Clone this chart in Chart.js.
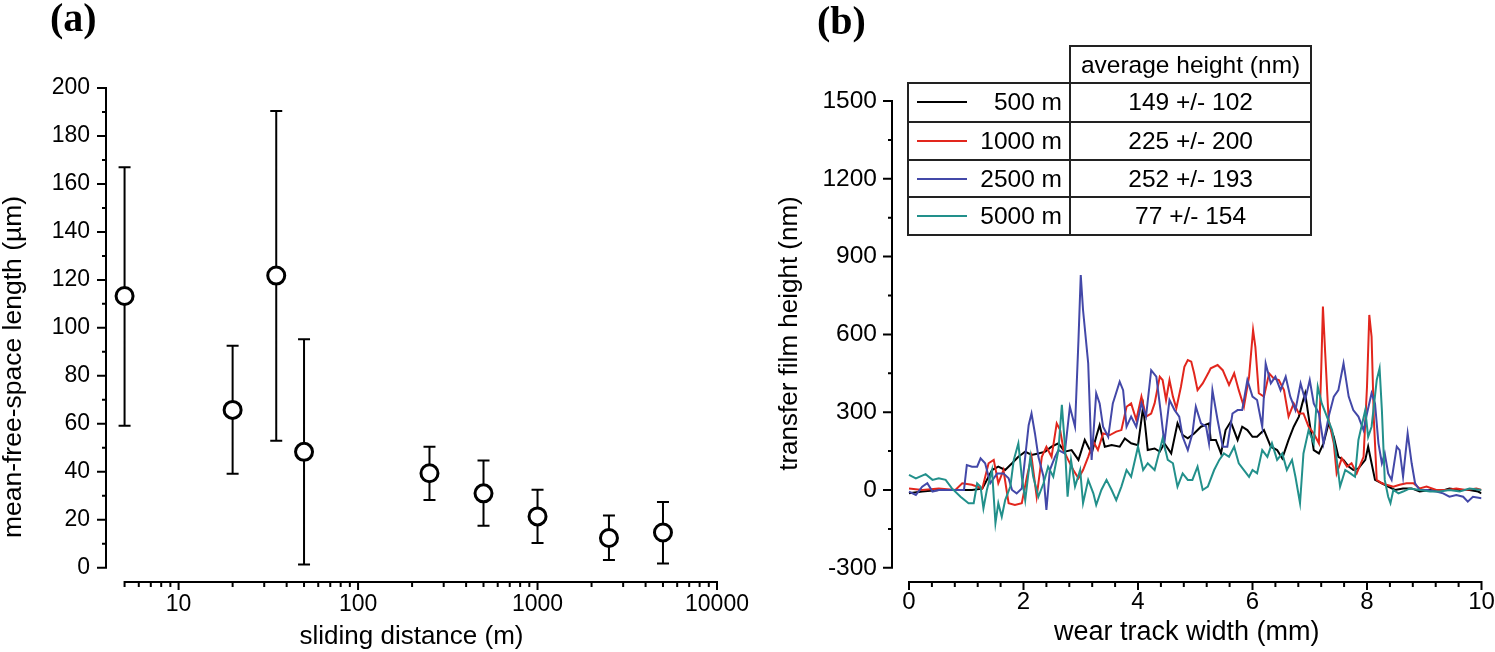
<!DOCTYPE html>
<html><head><meta charset="utf-8">
<script src="https://cdn.jsdelivr.net/npm/chart.js@4.4.1/dist/chart.umd.min.js"></script>
<style>
html,body{margin:0;padding:0;width:1495px;height:652px;overflow:hidden;background:#fff;font-family:"Liberation Sans",Arial,sans-serif;}
#ca{position:absolute;left:0;top:0;}
#cb{position:absolute;left:750px;top:0;}
.panel{position:absolute;font-family:"Liberation Serif","Times New Roman",serif;font-weight:bold;font-size:40px;line-height:1;color:#000;}
.cell{position:absolute;box-sizing:border-box;border:2px solid #222;display:flex;align-items:center;font-size:24.5px;color:#000;white-space:nowrap;}
.sw{display:inline-block;width:50px;height:2px;}
</style></head><body>
<canvas id="ca" width="780" height="652"></canvas>
<canvas id="cb" width="800" height="652"></canvas>
<div class="panel" style="left:50px;top:-2px">(a)</div>
<div class="panel" style="left:817px;top:1px">(b)</div>
<div id="legend"></div>
<script>
// ---------- Panel (a) data ----------
const distA = [5, 20, 35, 50, 250, 500, 1000, 2500, 5000];
const mfsl  = [113.3, 65.8, 121.8, 48.3, 39.4, 31.0, 21.4, 12.4, 14.7];
const errHi = [167, 92.5, 190.4, 95.3, 50.4, 44.7, 32.5, 21.8, 27.4];
const errLo = [59.2, 39.2, 52.9, 1.3, 28.2, 17.5, 10.3, 3.2, 1.8];
const ticksAX = [10, 100, 1000, 10000];
const minorAX = [5,6,7,8,9,20,30,40,50,60,70,80,90,200,300,400,500,600,700,800,900,2000,3000,4000,5000,6000,7000,8000,9000];
const ticksAY = [0, 20, 40, 60, 80, 100, 120, 140, 160, 180, 200];
const minorAY = [10, 30, 50, 70, 90, 110, 130, 150, 170, 190];

// ---------- Panel (b) data ----------
const seriesNames = ['500 m', '1000 m', '2500 m', '5000 m'];
const avgHeights = ['149 +/- 102', '225 +/- 200', '252 +/- 193', '77 +/- 154'];
const headerText = 'average height (nm)';
const ticksBX = [0, 2, 4, 6, 8, 10];
const minorBX = [0.4,0.8,1.2,1.6,2.4,2.8,3.2,3.6,4.4,4.8,5.2,5.6,6.4,6.8,7.2,7.6,8.4,8.8,9.2,9.6];
const ticksBY = [-300, 0, 300, 600, 900, 1200, 1500];
const minorBY = [-150, 150, 450, 750, 1050, 1350];

const film500 = [[0,-13],[0.23,-6],[0.52,0],[0.81,0],[1.10,0],[1.28,5],[1.33,26],[1.45,77],[1.56,90],[1.68,77],[1.80,103],[1.91,128],[2.03,148],[2.14,135],[2.26,141],[2.38,148],[2.49,167],[2.61,180],[2.72,148],[2.84,154],[2.96,116],[3.07,193],[3.19,141],[3.27,205],[3.33,250],[3.42,167],[3.54,173],[3.68,167],[3.77,199],[3.88,180],[4.00,173],[4.09,321],[4.17,154],[4.29,160],[4.38,148],[4.46,180],[4.58,141],[4.69,257],[4.78,212],[4.87,199],[4.98,218],[5.10,244],[5.24,257],[5.27,193],[5.36,193],[5.45,141],[5.53,231],[5.62,263],[5.74,193],[5.82,244],[5.91,231],[6.00,205],[6.08,205],[6.20,231],[6.32,167],[6.43,154],[6.52,122],[6.63,193],[6.72,244],[6.81,283],[6.87,334],[6.92,373],[6.98,283],[7.07,154],[7.16,141],[7.24,180],[7.33,257],[7.42,205],[7.50,128],[7.59,116],[7.68,90],[7.76,77],[7.85,83],[7.97,116],[8.02,167],[8.08,103],[8.14,39],[8.26,26],[8.37,13],[8.49,0],[8.63,6],[8.78,6],[8.92,-6],[9.10,0],[9.27,-6],[9.44,6],[9.62,0],[9.79,0],[9.94,-6],[10,-13]];
const film1000 = [[0,6],[0.23,0],[0.52,6],[0.81,0],[0.93,26],[1.10,20],[1.28,6],[1.39,103],[1.48,116],[1.56,26],[1.65,77],[1.74,-51],[1.85,-58],[1.97,-51],[2.06,51],[2.14,128],[2.23,-26],[2.32,128],[2.40,167],[2.49,128],[2.58,257],[2.64,231],[2.70,154],[2.78,116],[2.87,77],[2.96,45],[3.04,77],[3.13,128],[3.22,186],[3.30,154],[3.39,218],[3.51,212],[3.62,225],[3.71,231],[3.80,321],[3.88,334],[3.97,270],[4.06,360],[4.14,283],[4.23,295],[4.29,334],[4.38,437],[4.43,424],[4.49,347],[4.55,424],[4.61,360],[4.67,315],[4.75,398],[4.81,475],[4.87,501],[4.93,495],[4.98,450],[5.04,385],[5.13,411],[5.24,456],[5.27,469],[5.39,482],[5.48,462],[5.59,405],[5.68,450],[5.76,385],[5.85,321],[5.94,437],[6.01,617],[6.05,552],[6.11,373],[6.20,360],[6.29,450],[6.37,430],[6.46,424],[6.55,385],[6.63,283],[6.72,334],[6.81,295],[6.89,295],[6.98,244],[7.07,218],[7.16,180],[7.20,462],[7.23,707],[7.27,527],[7.33,270],[7.42,180],[7.47,64],[7.56,122],[7.65,90],[7.73,103],[7.82,64],[7.94,128],[8.00,398],[8.04,675],[8.08,591],[8.12,270],[8.17,39],[8.26,26],[8.34,20],[8.46,13],[8.57,20],[8.69,26],[8.81,26],[8.92,6],[9.04,13],[9.21,0],[9.39,0],[9.56,6],[9.73,0],[9.91,6],[10,0]];
const film2500 = [[0,-6],[0.12,-19],[0.23,13],[0.32,26],[0.41,-6],[0.52,0],[0.81,0],[0.96,0],[1.01,96],[1.10,90],[1.19,90],[1.25,122],[1.33,103],[1.42,26],[1.54,64],[1.65,64],[1.74,45],[1.80,0],[1.88,-13],[1.97,6],[2.09,250],[2.14,295],[2.20,218],[2.26,128],[2.35,51],[2.40,-77],[2.46,77],[2.55,128],[2.61,154],[2.72,141],[2.81,321],[2.90,244],[2.96,578],[3.00,829],[3.04,694],[3.13,488],[3.19,116],[3.27,373],[3.33,334],[3.39,244],[3.48,205],[3.56,334],[3.68,418],[3.74,385],[3.80,244],[3.88,283],[3.97,244],[4.06,334],[4.14,283],[4.23,462],[4.32,437],[4.40,295],[4.46,180],[4.55,347],[4.64,308],[4.72,283],[4.78,205],[4.87,154],[4.95,218],[5.01,321],[5.10,257],[5.19,244],[5.24,180],[5.30,385],[5.39,270],[5.48,167],[5.56,167],[5.65,295],[5.74,308],[5.82,308],[5.91,424],[6.00,360],[6.08,347],[6.17,244],[6.23,488],[6.32,411],[6.40,437],[6.49,385],[6.58,437],[6.66,360],[6.75,308],[6.84,411],[6.92,347],[7.00,424],[7.07,334],[7.16,295],[7.24,180],[7.33,283],[7.42,360],[7.50,385],[7.59,488],[7.68,360],[7.76,308],[7.85,283],[7.94,231],[8.00,295],[8.08,373],[8.14,334],[8.20,180],[8.26,103],[8.31,141],[8.37,64],[8.43,39],[8.52,167],[8.57,154],[8.63,51],[8.71,218],[8.78,103],[8.84,26],[8.92,0],[9.04,0],[9.21,-6],[9.33,-13],[9.44,-26],[9.56,-19],[9.68,-26],[9.76,-45],[9.85,-26],[10,-32]];
const film5000 = [[0,58],[0.12,45],[0.29,61],[0.41,39],[0.52,45],[0.64,39],[0.75,6],[0.90,-26],[1.04,-51],[1.13,-51],[1.19,26],[1.25,13],[1.30,-71],[1.36,0],[1.45,77],[1.51,-128],[1.56,-51],[1.62,-103],[1.68,-39],[1.77,13],[1.83,116],[1.91,180],[1.97,51],[2.03,-39],[2.12,128],[2.17,51],[2.26,-26],[2.35,26],[2.43,90],[2.52,51],[2.61,154],[2.67,328],[2.72,180],[2.77,-26],[2.83,116],[2.90,13],[2.99,77],[3.04,-51],[3.13,39],[3.22,-13],[3.27,-58],[3.36,0],[3.45,39],[3.54,0],[3.62,-39],[3.71,13],[3.80,77],[3.88,51],[4.00,167],[4.09,77],[4.17,103],[4.29,77],[4.38,154],[4.43,199],[4.52,116],[4.61,103],[4.69,13],[4.78,64],[4.87,39],[4.95,39],[5.04,90],[5.13,0],[5.22,13],[5.33,77],[5.42,116],[5.50,141],[5.59,128],[5.68,167],[5.76,103],[5.85,77],[5.94,51],[6.00,77],[6.08,64],[6.17,154],[6.26,128],[6.34,180],[6.43,116],[6.52,141],[6.60,77],[6.69,116],[6.75,51],[6.83,-51],[6.89,141],[6.98,231],[7.07,180],[7.14,398],[7.21,334],[7.30,283],[7.39,231],[7.45,154],[7.53,13],[7.62,77],[7.71,64],[7.79,51],[7.85,193],[7.97,308],[8.02,205],[8.08,244],[8.17,424],[8.22,469],[8.26,308],[8.31,39],[8.37,-26],[8.41,-51],[8.46,0],[8.55,-13],[8.63,-6],[8.75,6],[8.92,0],[9.10,-6],[9.27,-6],[9.44,0],[9.62,-6],[9.79,6],[10,0]];

const FONT = "'Liberation Sans', Arial, sans-serif";

// draws detached axis lines and major/minor tick marks through the chart's scales
function makeAxisPlugin(cfg) {
  return {
    id: 'axisDraw',
    afterDraw(chart) {
      const {ctx, chartArea: ca, scales} = chart;
      const sx = scales.x, sy = scales.y;
      const ax = ca.left, ay = ca.bottom;
      ctx.save();
      ctx.strokeStyle = '#000';
      ctx.lineWidth = 2;
      ctx.beginPath();
      ctx.moveTo(ax, sy.getPixelForValue(cfg.yFrom) + 1);
      ctx.lineTo(ax, sy.getPixelForValue(cfg.yTo) - 1);
      ctx.moveTo(sx.getPixelForValue(cfg.xFrom) - 1, ay);
      ctx.lineTo(sx.getPixelForValue(cfg.xTo) + 1, ay);
      cfg.yMajor.forEach(v => { const p = sy.getPixelForValue(v); ctx.moveTo(ax - cfg.yMajLen, p); ctx.lineTo(ax, p); });
      cfg.yMinor.forEach(v => { const p = sy.getPixelForValue(v); ctx.moveTo(ax - cfg.yMinLen, p); ctx.lineTo(ax, p); });
      cfg.xMajor.forEach(v => { const p = sx.getPixelForValue(v); ctx.moveTo(p, ay); ctx.lineTo(p, ay + cfg.xMajLen); });
      cfg.xMinor.forEach(v => { const p = sx.getPixelForValue(v); ctx.moveTo(p, ay); ctx.lineTo(p, ay + cfg.xMinLen); });
      ctx.stroke();
      ctx.restore();
    }
  };
}
function makeYTitlePlugin(text, x, y, size) {
  return {
    id: 'yTitle',
    afterDraw(chart) {
      const ctx = chart.ctx;
      ctx.save();
      ctx.translate(x, y);
      ctx.rotate(-Math.PI / 2);
      ctx.fillStyle = '#000';
      ctx.font = size + 'px ' + FONT;
      ctx.textAlign = 'center';
      ctx.textBaseline = 'middle';
      ctx.fillText(text, 0, 0);
      ctx.restore();
    }
  };
}
const errPlugin = {
  id: 'errBars',
  beforeDatasetsDraw(chart) {
    const {ctx, scales: {x, y}} = chart;
    ctx.save();
    ctx.strokeStyle = '#000';
    ctx.lineWidth = 2;
    ctx.beginPath();
    distA.forEach((d, i) => {
      const px = x.getPixelForValue(d);
      const lo = y.getPixelForValue(errLo[i]);
      const hi = y.getPixelForValue(errHi[i]);
      ctx.moveTo(px, lo); ctx.lineTo(px, hi);
      ctx.moveTo(px - 6, hi); ctx.lineTo(px + 6, hi);
      ctx.moveTo(px - 6, lo); ctx.lineTo(px + 6, lo);
    });
    ctx.stroke();
    ctx.restore();
  }
};

// ---------- Chart (a) ----------
new Chart(document.getElementById('ca'), {
  type: 'scatter',
  data: {
    datasets: [{
      data: distA.map((d, i) => ({x: d, y: mfsl[i]})),
      pointRadius: 8.5, pointBorderWidth: 3,
      pointBackgroundColor: '#fff', pointBorderColor: '#000', showLine: false
    }]
  },
  options: {
    responsive: false, animation: false, events: [],
    layout: {padding: {left: 0, right: 63, top: 88, bottom: 0}},
    plugins: {legend: {display: false}, tooltip: {enabled: false}},
    scales: {
      x: {
        type: 'logarithmic', min: 3.94, max: 10000,
        afterFit: s => { s.height = 70; },
        afterBuildTicks: s => { s.ticks = ticksAX.map(v => ({value: v})); },
        grid: {display: false, drawTicks: true, tickLength: 6},
        border: {display: false},
        ticks: {padding: 3, autoSkip: false, maxRotation: 0, color: '#000', font: {family: FONT, size: 23}, callback: v => String(v)},
        title: {display: true, text: 'sliding distance (m)', color: '#000', font: {family: FONT, size: 26}, padding: {top: 0, bottom: 0}}
      },
      y: {
        type: 'linear', min: -5.96, max: 200,
        afterFit: s => { s.width = 106; },
        afterBuildTicks: s => { s.ticks = ticksAY.map(v => ({value: v})); },
        grid: {display: false, drawTicks: true, tickLength: 8},
        border: {display: false},
        ticks: {padding: 8, color: '#000', font: {family: FONT, size: 23}, callback: v => String(v)}
      }
    }
  },
  plugins: [
    errPlugin,
    makeAxisPlugin({xFrom: 5, xTo: 10000, yFrom: 0, yTo: 200, xMajor: ticksAX, xMinor: minorAX, yMajor: ticksAY, yMinor: minorAY, xMajLen: 8, xMinLen: 5, yMajLen: 9, yMinLen: 4}),
    makeYTitlePlugin('mean-free-space length (\u00b5m)', 14, 367, 26.5)
  ]
});

// ---------- Chart (b) ----------
const filmSeries = [film500, film1000, film2500, film5000];
const filmColors = ['#000000', '#e2261d', '#4348a8', '#22908b'];
const filmOrder = [4, 3, 2, 1];
const chartB = new Chart(document.getElementById('cb'), {
  type: 'line',
  data: {
    datasets: filmSeries.map((s, i) => ({
      label: seriesNames[i],
      data: s.map(p => ({x: p[0], y: p[1]})),
      borderColor: filmColors[i], borderWidth: 2, pointRadius: 0, tension: 0, fill: false, order: filmOrder[i]
    }))
  },
  options: {
    responsive: false, animation: false, events: [],
    layout: {padding: {left: 0, right: 68.5, top: 101, bottom: 0}},
    plugins: {legend: {display: false}, tooltip: {enabled: false}},
    scales: {
      x: {
        type: 'linear', min: -0.297, max: 10,
        afterFit: s => { s.height = 70; },
        afterBuildTicks: s => { s.ticks = ticksBX.map(v => ({value: v})); },
        grid: {display: false, drawTicks: true, tickLength: 4},
        border: {display: false},
        ticks: {padding: 2, autoSkip: false, maxRotation: 0, color: '#000', font: {family: FONT, size: 24}, callback: v => String(v)},
        title: {display: true, text: 'wear track width (mm)', color: '#000', font: {family: FONT, size: 27}, padding: {top: 0, bottom: 3}}
      },
      y: {
        type: 'linear', min: -354.8, max: 1500,
        afterFit: s => { s.width = 142; },
        afterBuildTicks: s => { s.ticks = ticksBY.map(v => ({value: v})); },
        grid: {display: false, drawTicks: true, tickLength: 8},
        border: {display: false},
        ticks: {padding: 7, color: '#000', font: {family: FONT, size: 24.5}, callback: v => String(v)}
      }
    }
  },
  plugins: [
    makeAxisPlugin({xFrom: 0, xTo: 10, yFrom: -300, yTo: 1500, xMajor: ticksBX, xMinor: minorBX, yMajor: ticksBY, yMinor: minorBY, xMajLen: 8, xMinLen: 5, yMajLen: 9, yMinLen: 4}),
    makeYTitlePlugin('transfer film height (nm)', 39.5, 333.5, 26)
  ]
});

// ---------- Table legend (b) ----------
const leg = document.getElementById('legend');
const colL = 907.4, colM = 1069.4, colR = 1311.8;
const rowLines = [46, 83.3, 121.7, 160, 197.3, 235];
function cell(l, t, w, h, justify, padL, padR) {
  const d = document.createElement('div');
  d.className = 'cell';
  d.style.left = l + 'px'; d.style.top = t + 'px';
  d.style.width = w + 'px'; d.style.height = h + 'px';
  d.style.justifyContent = justify;
  d.style.paddingLeft = padL + 'px'; d.style.paddingRight = padR + 'px';
  leg.appendChild(d);
  return d;
}
cell(colM, rowLines[0] - 1, colR - colM, rowLines[1] - rowLines[0] + 2, 'center', 0, 0).textContent = headerText;
chartB.data.datasets.forEach((ds, i) => {
  const t = rowLines[i + 1] - 1, h = rowLines[i + 2] - rowLines[i + 1] + 2;
  const lc = cell(colL, t, colM + 2 - colL, h, 'space-between', 7.6, 7.4);
  const sw = document.createElement('span');
  sw.className = 'sw'; sw.style.background = ds.borderColor;
  const tx = document.createElement('span');
  tx.textContent = ds.label;
  lc.appendChild(sw); lc.appendChild(tx);
  cell(colM, t, colR - colM, h, 'center', 0, 0).textContent = avgHeights[i];
});
</script>
</body></html>
